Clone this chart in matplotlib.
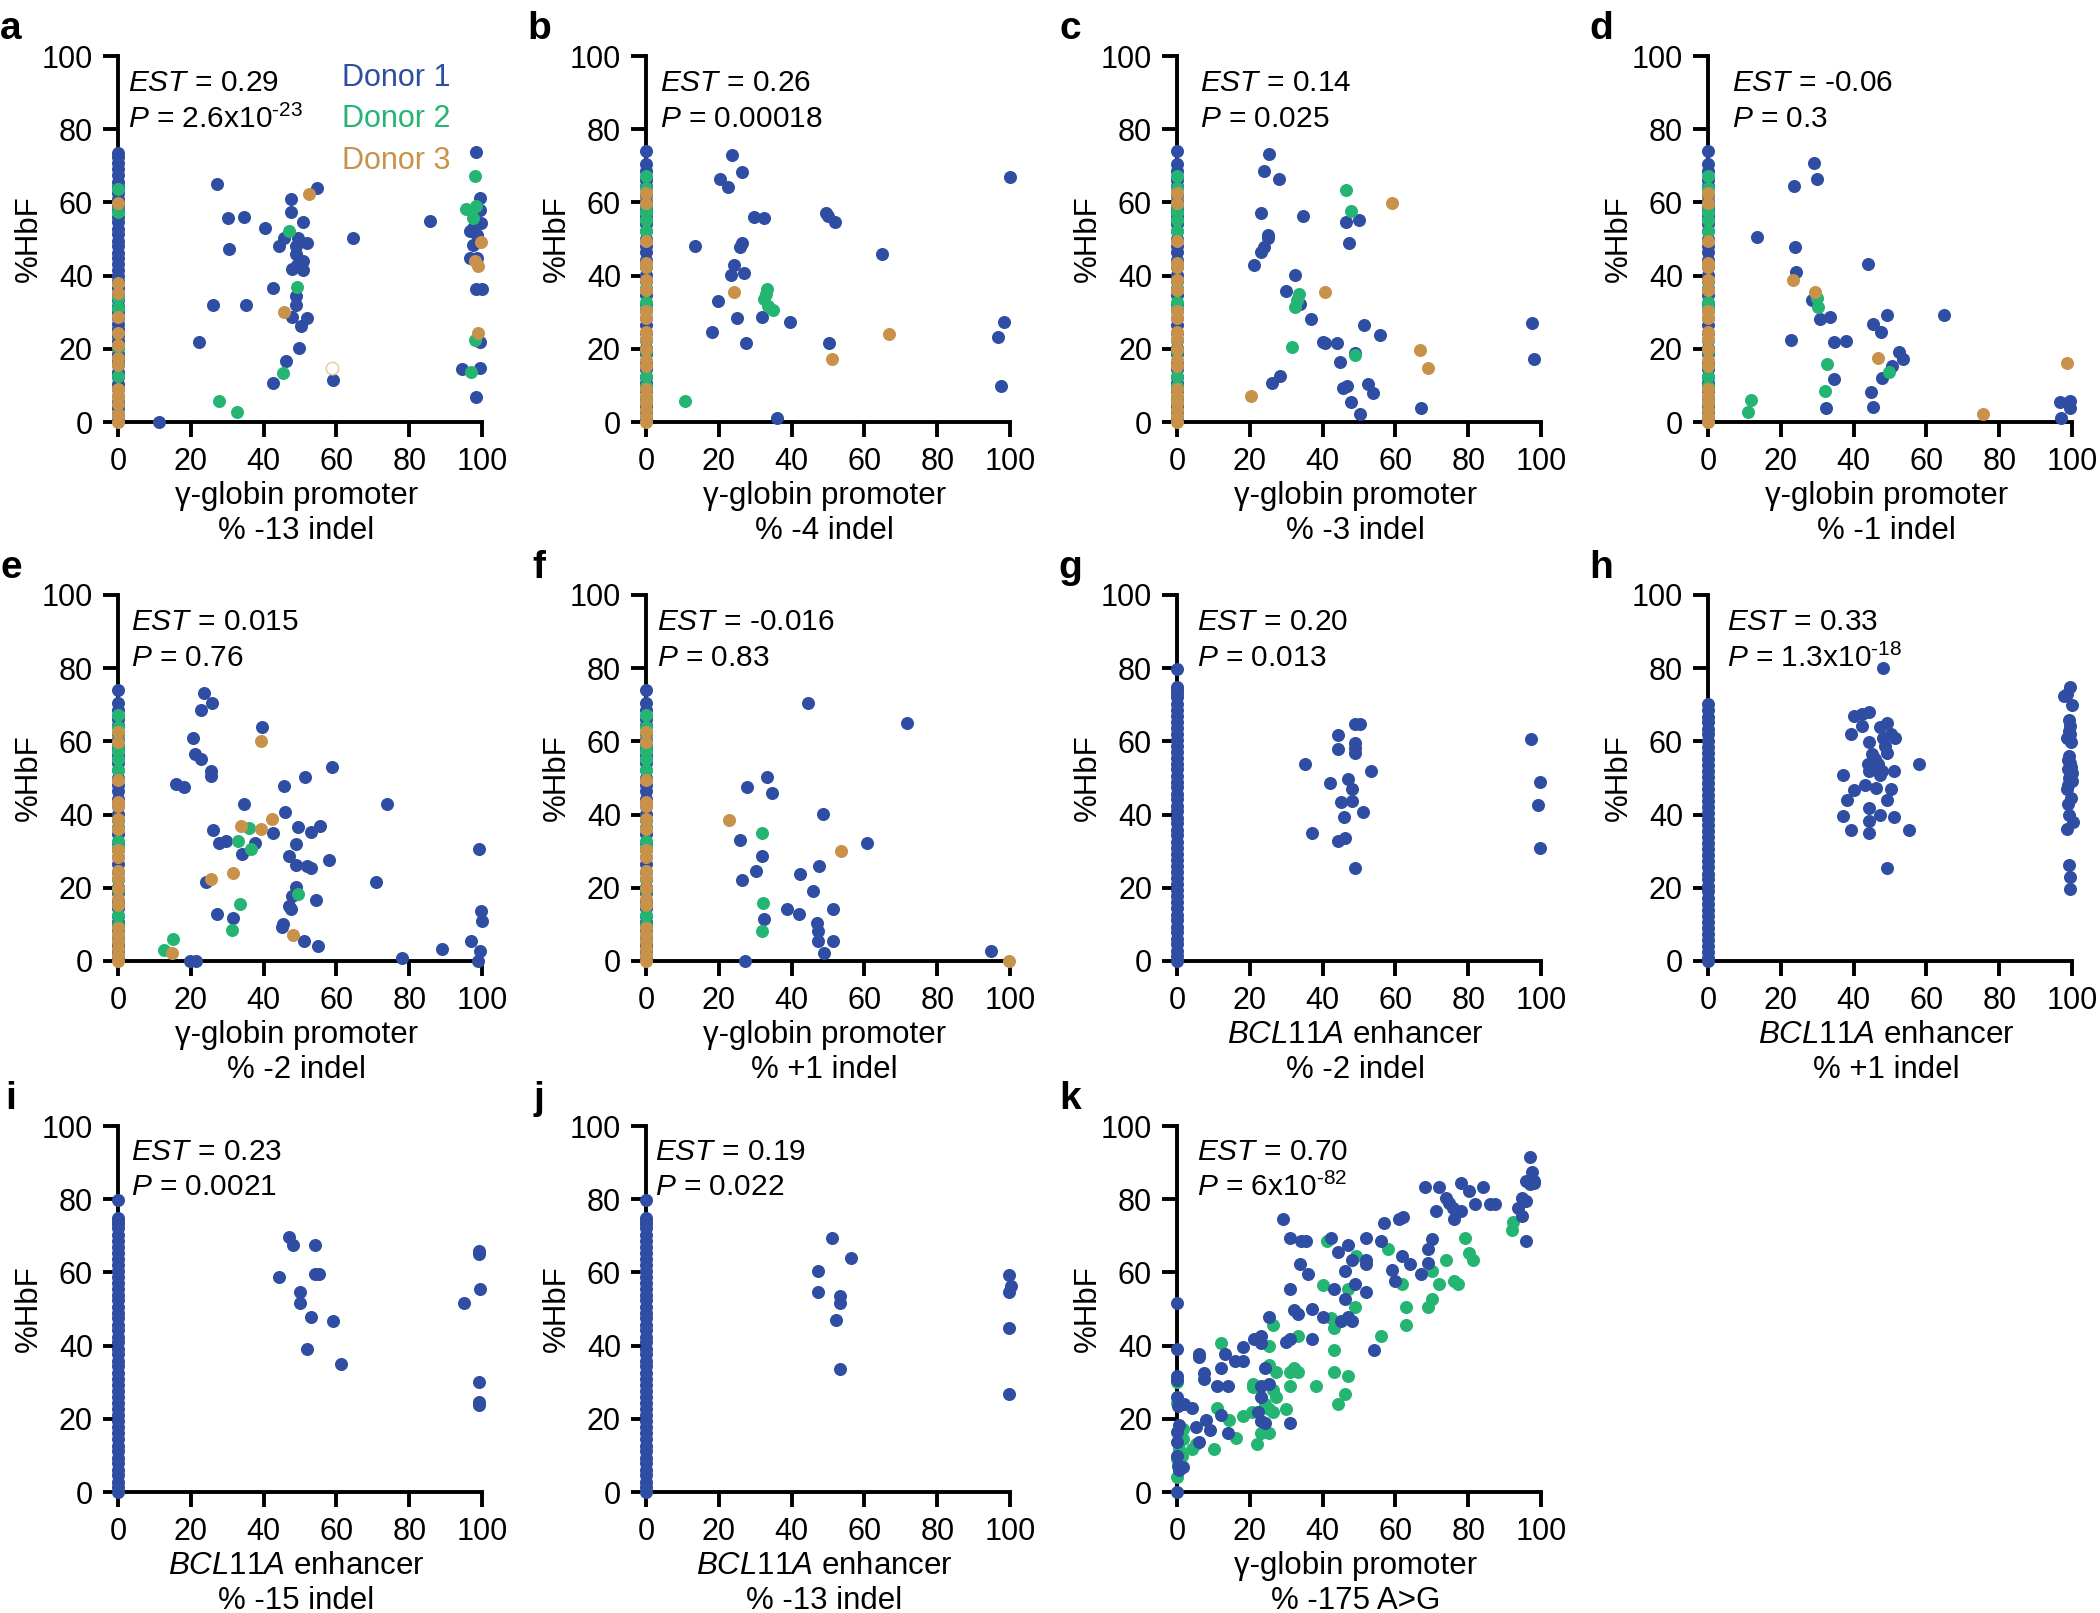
"""
 %HbF versus editing outcome at each target site (panels a-k).
 Each dot is one sample, coloured by donor; x = 0 samples sit on the y axis.
"""
import matplotlib.pyplot as plt

plt.rcParams['font.family'] = ['Liberation Sans', 'DejaVu Sans']
plt.rcParams['mathtext.fontset'] = 'custom'
plt.rcParams['mathtext.rm'] = 'Liberation Sans'
plt.rcParams['mathtext.it'] = 'Liberation Sans:italic'
plt.rcParams['mathtext.default'] = 'regular'

BLUE = '#2F4DA2'
GREEN = '#25B573'
TAN = '#C8924A'

# ---- data (x = % edit, y = %HbF) ----

# unedited samples (x = 0) in panel a
a_zero_d1 = [73.5, 72.3, 70.8, 69.0, 67.5, 65.7, 64.2, 62.5, 61.0, 59.2, 57.8, 56.0, 54.6,
             52.8, 51.4, 49.5, 48.0, 46.3, 44.9, 43.1, 41.6, 39.8, 38.4, 36.5, 35.1, 33.2,
             31.8, 30.0, 28.5, 26.7, 25.3, 23.4, 22.0, 20.2, 18.7, 16.9, 15.5, 13.6, 12.2,
             10.3, 8.9, 7.0, 5.6, 3.8, 2.3, 0.6]
a_zero_d2 = [63.6, 57.5, 34.0, 31.2, 20.5, 12.7]
a_zero_d3 = [59.8, 38.1, 35.2, 28.6, 24.4, 21.0, 17.4, 15.5, 8.9, 7.0, 5.0, 2.3, 0.0]

# unedited samples (x = 0) shared by panels b-f
zero_d1 = [74.0, 70.5, 68.6, 66.1, 64.4, 62.0, 60.3, 58.1, 56.4, 54.0, 52.3, 50.1, 48.2,
           46.5, 44.3, 42.4, 40.2, 38.5, 36.3, 34.6, 32.2, 30.4, 28.3, 26.6, 24.4, 22.5,
           20.3, 18.6, 16.4, 14.5, 12.3, 10.6, 8.4, 6.5, 4.3, 2.6, 0.5]
zero_d2 = [67.2, 64.0, 62.6, 59.0, 57.4, 55.3, 52.2, 36.5, 32.8, 30.9, 22.3, 19.5, 15.2,
           12.6, 9.8, 6.4]
zero_d3 = [62.5, 59.8, 49.4, 43.5, 42.4, 38.7, 36.1, 30.2, 28.4, 24.6, 22.6, 20.0, 17.0,
           15.3, 9.0, 7.2, 5.2, 3.4, 1.6, 0.0]

# unedited samples (x = 0) for the BCL11A panels
bcl_zero = [79.8, 74.9, 74.0, 73.1, 72.2, 70.1, 68.6, 67.0, 65.2, 63.7, 61.9, 60.5, 58.8,
            57.1, 55.6, 53.8, 52.4, 50.6, 49.0, 47.5, 45.7, 44.2, 42.4, 40.9, 39.1, 37.6,
            35.8, 34.3, 32.5, 31.0, 29.2, 27.7, 25.9, 24.4, 22.6, 21.1, 19.3, 17.8, 16.0,
            14.5, 12.7, 11.2, 9.4, 7.9, 6.1, 4.6, 2.8, 1.3, 0.0]
h_zero = [70.1, 68.5, 66.8, 65.2, 63.5, 61.9, 60.2, 58.6, 56.9, 55.3, 53.6, 52.0, 50.3,
          48.7, 47.0, 45.4, 43.7, 42.1, 40.4, 38.8, 37.1, 35.5, 33.8, 32.2, 30.5, 28.9,
          27.2, 25.6, 23.9, 22.3, 20.6, 19.0, 17.3, 15.7, 14.0, 12.4, 10.7, 9.1, 7.4,
          5.8, 4.1, 2.5, 0.8, 0.0]

# edited samples, (x, y) per donor
a_d1 = [(11.4, 0.0), (22.2, 21.8), (27.1, 65.0), (26.1, 32.0), (30.3, 55.8), (30.4, 47.4),
        (34.5, 56.0), (35.3, 32.0), (40.3, 52.9), (42.6, 36.7), (42.5, 10.6), (44.3, 48.1),
        (45.6, 50.4), (46.1, 16.7), (47.6, 60.9), (47.6, 57.5), (47.7, 28.6), (48.8, 48.1),
        (49.0, 46.0), (49.5, 50.4), (47.7, 41.8), (49.2, 42.9), (48.8, 34.3), (49.0, 31.9),
        (49.6, 20.2), (50.2, 26.3), (50.7, 54.7), (50.9, 44.1), (50.7, 41.6), (52.0, 49.0),
        (51.8, 28.4), (54.6, 64.0), (59.2, 11.4), (64.5, 50.2), (85.7, 54.9), (98.4, 73.9),
        (99.4, 61.2), (99.4, 58.0), (99.6, 54.5), (96.6, 52.3), (97.5, 53.0), (98.7, 51.2),
        (97.5, 48.4), (96.8, 44.8), (98.7, 44.8), (98.4, 36.3), (100.0, 36.3), (99.4, 21.9),
        (94.5, 14.4), (99.4, 14.8), (98.4, 6.9)]
a_d2 = [(27.8, 5.8), (32.7, 2.7), (47.0, 52.3), (49.3, 36.9), (45.2, 13.3), (98.1, 67.3),
        (95.7, 58.2), (98.3, 58.9), (97.5, 55.7), (98.1, 22.3), (96.9, 13.6)]
a_d3 = [(52.6, 62.4), (45.6, 30.0), (99.6, 49.3), (98.0, 44.0), (98.9, 42.7), (98.8, 24.4)]
a_open = [(58.7, 14.7)]

b_d1 = [(23.5, 72.9), (20.2, 66.3), (22.6, 64.1), (26.3, 68.4), (29.8, 56.1), (32.5, 55.7),
        (13.5, 48.2), (25.8, 47.8), (26.3, 48.9), (24.3, 42.8), (23.4, 40.1), (27.0, 40.6),
        (19.8, 33.1), (25.1, 28.3), (31.8, 28.7), (39.5, 27.4), (18.1, 24.5), (27.4, 21.5),
        (36.0, 1.0), (49.4, 57.1), (50.0, 56.2), (51.8, 54.7), (64.7, 45.9), (50.2, 21.5),
        (100.0, 67.0), (98.3, 27.2), (96.6, 23.1), (97.4, 9.9)]
b_d2 = [(10.7, 5.8), (33.2, 36.3), (33.0, 34.9), (32.3, 33.7), (33.5, 31.6), (35.0, 30.7)]
b_d3 = [(24.1, 35.4), (66.7, 24.0), (51.2, 17.1)]

c_d1 = [(25.2, 73.1), (24.0, 68.5), (27.9, 66.4), (23.2, 57.0), (34.6, 56.2), (25.0, 51.1),
        (25.1, 50.3), (24.0, 47.7), (23.1, 46.4), (21.2, 42.9), (46.5, 54.7), (49.9, 55.1),
        (47.3, 48.9), (32.5, 40.2), (30.0, 35.8), (33.8, 32.2), (36.9, 28.2), (40.0, 21.9),
        (40.7, 21.6), (43.9, 21.6), (44.8, 16.5), (51.3, 26.6), (55.8, 23.9), (26.0, 10.7),
        (28.4, 12.6), (45.7, 9.2), (46.7, 9.9), (47.8, 5.6), (50.2, 2.3), (52.6, 10.4),
        (53.9, 8.0), (67.1, 3.9), (97.4, 27.0), (98.1, 17.3), (48.9, 18.8)]
c_d2 = [(46.4, 63.5), (47.8, 57.6), (33.4, 35.0), (33.0, 33.4), (32.3, 31.4), (31.5, 20.6),
        (49.0, 18.3)]
c_d3 = [(59.1, 59.8), (40.7, 35.4), (66.8, 19.8), (68.9, 14.8), (20.3, 7.0)]

d_d1 = [(29.2, 70.7), (30.0, 66.5), (23.5, 64.4), (13.4, 50.6), (24.0, 47.9), (24.2, 40.9),
        (43.9, 43.1), (28.6, 33.3), (30.8, 28.2), (33.5, 28.7), (45.3, 26.8), (47.6, 24.7),
        (49.1, 29.1), (64.7, 29.3), (22.9, 22.3), (34.6, 21.8), (37.8, 22.1), (52.5, 19.1),
        (53.5, 17.2), (50.5, 15.2), (47.9, 12.0), (34.7, 11.7), (44.8, 8.2), (45.2, 4.2),
        (32.5, 3.9), (96.7, 5.6), (99.5, 5.8), (99.5, 3.7), (97.0, 1.2)]
d_d2 = [(30.0, 34.0), (30.2, 31.5), (32.7, 15.9), (32.1, 8.4), (49.6, 13.6), (11.9, 6.0),
        (11.0, 2.8)]
d_d3 = [(23.4, 38.7), (29.3, 35.5), (46.8, 17.4), (98.5, 16.0), (75.6, 2.3)]

e_d1 = [(23.7, 73.1), (25.7, 70.6), (22.7, 68.5), (39.5, 64.0), (20.6, 61.0), (21.1, 56.5),
        (22.8, 55.1), (25.5, 52.0), (25.5, 50.6), (16.0, 48.4), (18.0, 47.5), (58.8, 53.0),
        (51.3, 50.3), (45.7, 47.9), (34.6, 42.9), (46.0, 40.8), (73.8, 42.9), (26.2, 35.9),
        (27.7, 32.3), (29.8, 32.7), (37.5, 32.3), (34.0, 29.2), (42.7, 35.0), (49.4, 36.6),
        (48.8, 32.1), (53.0, 35.3), (55.4, 36.8), (46.9, 28.6), (48.8, 26.3), (51.8, 26.0),
        (53.0, 25.3), (58.0, 27.5), (24.3, 21.6), (70.8, 21.6), (48.8, 20.3), (47.9, 17.8),
        (54.3, 16.6), (47.1, 15.0), (47.6, 14.3), (27.3, 12.8), (31.6, 11.7), (45.2, 10.1),
        (45.0, 9.2), (51.2, 5.6), (55.0, 4.2), (19.9, 0.0), (21.3, 0.0), (78.1, 0.9),
        (89.1, 3.3), (96.9, 5.4), (99.3, 30.5), (99.7, 13.6), (100.0, 10.8), (99.4, 2.6),
        (98.8, 0.0)]
e_d2 = [(36.0, 36.3), (33.0, 32.8), (36.6, 30.6), (33.6, 15.7), (31.4, 8.4), (49.4, 18.3),
        (15.2, 5.9), (12.6, 3.0)]
e_d3 = [(39.3, 60.0), (33.7, 37.0), (39.3, 36.0), (42.3, 38.7), (25.5, 22.5), (31.7, 24.1),
        (48.1, 7.1), (14.7, 2.3)]

f_d1 = [(44.6, 70.5), (71.8, 64.9), (33.2, 50.4), (27.7, 47.5), (34.6, 46.0), (48.5, 40.2),
        (25.7, 33.1), (60.8, 32.3), (31.9, 28.6), (47.5, 25.9), (30.3, 24.5), (42.3, 23.8),
        (26.4, 22.1), (46.0, 19.0), (38.7, 14.1), (42.0, 12.8), (51.4, 14.3), (32.3, 11.6),
        (47.1, 10.4), (47.3, 8.3), (47.3, 5.5), (51.3, 5.5), (48.8, 2.3), (27.3, 0.0),
        (94.7, 2.7)]
f_d2 = [(31.8, 35.1), (32.1, 15.8), (31.9, 8.3)]
f_d3 = [(22.8, 38.6), (53.5, 30.0), (99.7, 0.0)]

g_d1 = [(35.1, 53.9), (37.0, 35.0), (44.1, 61.8), (44.1, 57.8), (42.0, 48.5), (45.0, 43.5),
        (45.9, 39.3), (46.1, 33.7), (44.1, 32.7), (47.0, 49.8), (48.2, 46.9), (48.2, 43.8),
        (48.8, 64.7), (50.2, 64.7), (49.0, 59.5), (49.0, 58.1), (49.0, 56.7), (53.2, 52.0),
        (51.1, 40.7), (49.0, 25.3), (97.3, 60.7), (99.7, 48.9), (99.1, 42.7), (99.7, 30.8)]

h_d1 = [(48.1, 80.0), (40.1, 66.9), (42.2, 67.6), (44.3, 68.0), (42.2, 64.3), (39.2, 61.9),
        (44.3, 59.9), (47.2, 63.8), (49.3, 64.9), (50.4, 61.9), (51.5, 60.9), (48.1, 60.9),
        (48.5, 58.8), (49.2, 56.9), (45.0, 56.5), (45.9, 55.1), (44.0, 53.7), (46.7, 53.7),
        (45.5, 52.5), (47.8, 52.0), (44.3, 51.8), (47.2, 50.7), (51.1, 52.0), (58.1, 53.9),
        (37.1, 50.9), (40.1, 46.8), (43.1, 48.0), (46.1, 47.3), (50.2, 47.1), (38.1, 44.0),
        (44.3, 41.9), (49.2, 44.0), (37.1, 39.6), (47.2, 40.0), (51.1, 39.4), (44.3, 38.2),
        (39.2, 35.8), (44.3, 34.9), (55.1, 35.7), (49.2, 25.5),
        (99.5, 74.9), (98.6, 73.0), (97.9, 72.5), (100.0, 69.9), (99.1, 65.9), (99.5, 64.3),
        (99.2, 62.9), (99.5, 61.9), (98.6, 60.9), (99.7, 59.8), (99.1, 56.0), (98.9, 55.0),
        (99.5, 54.0), (99.8, 53.0), (98.8, 52.5), (100.0, 51.3), (99.3, 50.1), (100.0, 49.2),
        (99.0, 48.0), (98.6, 47.1), (99.6, 44.5), (98.8, 42.9), (99.3, 39.8), (100.2, 37.9),
        (98.6, 36.0), (99.3, 26.1), (99.5, 22.9), (99.5, 19.6)]

i_d1 = [(47.0, 69.8), (48.1, 67.6), (54.2, 67.6), (44.1, 58.7), (54.1, 59.6), (55.2, 59.6),
        (50.0, 54.7), (50.0, 51.6), (53.0, 47.7), (59.1, 46.8), (52.0, 39.0), (61.2, 35.1),
        (99.3, 65.8), (99.3, 65.1), (99.4, 55.5), (95.0, 51.7), (99.1, 30.1), (99.3, 24.7),
        (99.3, 23.8)]

j_d1 = [(51.1, 69.5), (56.2, 63.8), (47.2, 60.5), (47.2, 54.7), (53.2, 53.5), (53.2, 51.6),
        (52.2, 47.1), (53.2, 33.7), (99.7, 59.2), (100.2, 56.4), (99.7, 54.6), (99.7, 44.9),
        (99.7, 26.7)]

k_d1 = [(0.0, 51.6), (0.0, 39.0), (0.0, 31.7), (0.0, 30.6), (0.0, 25.9), (0.2, 23.5),
        (0.5, 18.3), (0.0, 16.5), (0.0, 13.6), (0.0, 9.9), (0.2, 7.1), (0.5, 6.1), (0.0, 0.0),
        (2.0, 24.0), (4.1, 22.9), (1.6, 6.8), (5.1, 17.8), (6.0, 13.7), (6.0, 37.8),
        (6.0, 36.9), (7.3, 32.6), (7.3, 30.8), (8.1, 19.8), (9.2, 16.9), (11.1, 28.9),
        (12.2, 33.8), (12.2, 21.0), (13.2, 37.8), (14.1, 28.9), (14.1, 16.0), (16.0, 35.7),
        (18.2, 35.7), (18.1, 39.7), (21.1, 41.9), (23.1, 42.6), (23.1, 40.6), (22.2, 21.8),
        (23.1, 19.3), (24.1, 18.8), (23.1, 25.9), (24.1, 33.8), (23.1, 28.9), (25.3, 29.6),
        (25.2, 47.7), (29.0, 74.5), (31.1, 69.5), (31.1, 55.6), (30.0, 40.9), (31.1, 41.9),
        (31.1, 18.8), (32.2, 49.6), (33.2, 48.6), (33.9, 62.4), (34.0, 68.5), (35.5, 68.5),
        (36.1, 59.5), (37.1, 49.9), (37.1, 41.7), (40.2, 47.7), (42.2, 69.5), (43.1, 55.6),
        (44.1, 65.7), (45.0, 46.6), (46.1, 60.5), (46.1, 52.7), (47.0, 67.5), (47.0, 47.7),
        (48.2, 46.6), (48.2, 63.5), (49.0, 56.9), (52.0, 69.5), (52.0, 63.5), (52.0, 62.4),
        (52.0, 54.6), (54.0, 38.7), (56.0, 68.5), (57.0, 73.6), (59.0, 60.7), (59.9, 57.7),
        (61.0, 74.5), (62.2, 75.1), (61.9, 64.4), (64.1, 62.4), (67.0, 59.5), (68.0, 83.4),
        (69.0, 62.6), (69.0, 66.5), (70.0, 69.1), (71.1, 76.7), (71.9, 83.4), (74.0, 80.4),
        (74.7, 79.0), (75.8, 77.6), (76.0, 74.6), (78.0, 84.4), (78.1, 76.9), (80.1, 82.3),
        (82.0, 78.6), (84.1, 83.4), (86.0, 78.6), (87.3, 78.6), (93.7, 77.6), (94.8, 75.5),
        (94.8, 80.4), (95.9, 79.5), (95.9, 68.5), (97.0, 91.4), (97.6, 87.5), (98.2, 85.1),
        (96.0, 85.1), (97.0, 84.2), (98.2, 84.4)]
k_d2 = [(0.0, 30.0), (0.0, 24.2), (0.2, 16.5), (1.6, 17.1), (1.7, 14.6), (0.5, 11.8),
        (0.0, 8.9), (0.0, 4.2), (1.4, 9.9), (4.1, 11.8), (5.3, 13.2), (10.1, 11.8),
        (11.1, 22.9), (12.2, 40.6), (14.3, 19.8), (16.1, 14.8), (18.2, 20.9), (20.6, 21.8),
        (21.0, 29.6), (21.0, 28.7), (22.1, 13.0), (23.1, 16.0), (25.3, 16.0), (24.1, 24.0),
        (25.2, 22.6), (26.3, 21.8), (25.3, 40.0), (25.3, 34.8), (26.3, 45.6), (27.3, 32.7),
        (26.4, 27.8), (27.3, 25.9), (30.0, 22.8), (31.0, 32.7), (31.0, 28.9), (32.1, 33.8),
        (33.2, 32.7), (33.2, 42.6), (38.1, 28.9), (40.2, 56.6), (41.2, 68.7), (42.2, 47.5),
        (43.1, 44.7), (43.1, 38.8), (43.1, 32.7), (44.1, 24.0), (46.1, 26.8), (47.0, 55.5),
        (47.0, 31.8), (49.1, 64.4), (49.0, 50.5), (56.0, 42.6), (58.0, 66.5), (61.9, 56.9),
        (63.0, 50.5), (63.0, 45.6), (70.0, 60.5), (70.0, 52.7), (69.0, 50.5), (71.9, 56.9),
        (74.0, 63.5), (76.0, 57.7), (77.1, 56.9), (79.0, 69.4), (80.1, 65.4), (81.2, 63.5),
        (92.2, 73.8), (92.0, 71.5)]

panel_letters = ['a', 'b', 'c', 'd', 'e', 'f', 'g', 'h', 'i', 'j', 'k']
est_values = ['0.29', '0.26', '0.14', '-0.06', '0.015', '-0.016', '0.20', '0.33', '0.23',
              '0.19', '0.70']
p_values = ['2.6x10$^{\\text{-}23}$', '0.00018', '0.025', '0.3', '0.76', '0.83', '0.013',
            '1.3x10$^{\\text{-}18}$', '0.0021', '0.022', '6x10$^{\\text{-}82}$']
site_labels = ['γ-globin promoter'] * 6 + ['$\\mathit{BCL11A}$ enhancer'] * 4 + ['γ-globin promoter']
edit_labels = ['% -13 indel', '% -4 indel', '% -3 indel', '% -1 indel', '% -2 indel',
               '% +1 indel', '% -2 indel', '% +1 indel', '% -15 indel', '% -13 indel',
               '% -175 A>G']
donor_names = ['Donor 1', 'Donor 2', 'Donor 3']


def dots(ax, pts, color, size=88, **kw):
    xs = [p[0] for p in pts]
    ys = [p[1] for p in pts]
    ax.scatter(xs, ys, s=size, color=color, linewidths=0, clip_on=False, zorder=3, **kw)


def column(ax, ys, color):
    dots(ax, [(0.0, y) for y in ys], color)


def main():
    W, H = 2100, 1613
    fig = plt.figure(figsize=(W / 100, H / 100), dpi=100)

    # pixel position of the (0, 0) corner of each panel
    col_x = [118, 646, 1177, 1708]
    row_y = [422, 961, 1492]
    aw, ah = 364, 366
    est_x = [2.8, 3.9, 6.2, 6.7, 3.7, 3.0, 5.5, 5.1, 3.5, 2.6, 5.5]

    for n, letter in enumerate(panel_letters):
        r, c = divmod(n, 4)
        x0, y0 = col_x[c], row_y[r]
        ax = fig.add_axes([x0 / W, (H - y0) / H, aw / W, ah / H])

        # scatter for each panel
        if letter == 'a':
            column(ax, a_zero_d1, BLUE)
            column(ax, a_zero_d2, GREEN)
            column(ax, a_zero_d3, TAN)
            dots(ax, a_d1, BLUE)
            dots(ax, a_d2, GREEN)
            dots(ax, a_d3, TAN)
            ax.scatter([p[0] for p in a_open], [p[1] for p in a_open], s=80,
                       facecolor='white', edgecolor='#EBCFA8', linewidths=1.2, zorder=3)
        elif letter in 'bcdef':
            sets = {'b': (b_d1, b_d2, b_d3), 'c': (c_d1, c_d2, c_d3), 'd': (d_d1, d_d2, d_d3),
                    'e': (e_d1, e_d2, e_d3), 'f': (f_d1, f_d2, f_d3)}[letter]
            column(ax, zero_d1, BLUE)
            column(ax, zero_d2, GREEN)
            column(ax, zero_d3, TAN)
            dots(ax, sets[0], BLUE)
            dots(ax, sets[1], GREEN)
            dots(ax, sets[2], TAN)
        elif letter == 'h':
            column(ax, h_zero, BLUE)
            dots(ax, h_d1, BLUE)
        elif letter in 'gij':
            column(ax, bcl_zero, BLUE)
            dots(ax, {'g': g_d1, 'i': i_d1, 'j': j_d1}[letter], BLUE)
        else:
            dots(ax, k_d2, GREEN)
            dots(ax, k_d1, BLUE)

        ax.set_xlim(0, 100)
        ax.set_ylim(0, 100)
        ax.set_xticks([0, 20, 40, 60, 80, 100])
        ax.set_yticks([0, 20, 40, 60, 80, 100])
        for side in ['top', 'right']:
            ax.spines[side].set_visible(False)
        for side in ['left', 'bottom']:
            ax.spines[side].set_linewidth(2.8)
        ax.tick_params(direction='out', length=11, width=2.8, labelsize=22, pad=7)
        ax.patch.set_alpha(0)

        ax.text(-0.245, 0.5, '%HbF', transform=ax.transAxes, rotation=90,
                ha='center', va='center', fontsize=22.5)
        ax.text(0.49, -0.16, site_labels[n] + '\n' + edit_labels[n], transform=ax.transAxes,
                ha='center', va='top', fontsize=22.5, linespacing=1.22)

        # stats
        ty = 93.0 if r == 2 else 92.6
        ax.text(est_x[n], ty, '$\\mathit{EST}$ = ' + est_values[n], ha='left', va='center',
                fontsize=21.5)
        ax.text(est_x[n], ty - 9.8, '$\\mathit{P}$ = ' + p_values[n], ha='left', va='center',
                fontsize=21.5)

        if letter == 'a':
            for name, col, yy in zip(donor_names, [BLUE, GREEN, TAN], [94.0, 82.7, 71.4]):
                ax.text(61.5, yy, name, color=col, ha='left', va='center', fontsize=22)

        fig.text((x0 - 107) / W, 1 - (y0 - 393) / H, letter, fontsize=28,
                 fontweight='bold', ha='center', va='center')

    fig.savefig('out.png', dpi=100)


if __name__ == '__main__':
    main()
